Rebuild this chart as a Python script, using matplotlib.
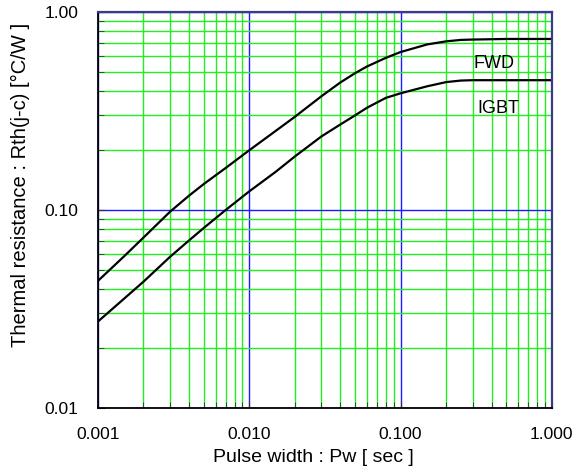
import matplotlib
matplotlib.use("Agg")
import matplotlib.pyplot as plt
from matplotlib.ticker import FixedLocator, FormatStrFormatter, LogLocator, NullFormatter

plt.rcParams["font.family"] = ["Liberation Sans", "DejaVu Sans"]

# pulse width [sec]
pulse_width = [0.001, 0.0015, 0.002, 0.003, 0.004, 0.005, 0.007, 0.01, 0.015,
               0.02, 0.03, 0.04, 0.05, 0.06, 0.08, 0.1, 0.15, 0.2, 0.25, 0.3,
               0.5, 1.0]
# thermal resistance [degC/W]
rth_fwd = [0.0438, 0.0586, 0.0725, 0.098, 0.118, 0.135, 0.163, 0.200, 0.251,
           0.295, 0.375, 0.440, 0.490, 0.530, 0.586, 0.627, 0.685, 0.710,
           0.722, 0.725, 0.730, 0.730]
rth_igbt = [0.0273, 0.0358, 0.0434, 0.058, 0.0701, 0.081, 0.100, 0.124, 0.156,
            0.186, 0.235, 0.270, 0.300, 0.328, 0.368, 0.388, 0.421, 0.442,
            0.450, 0.452, 0.452, 0.452]

x_ticks = [0.001, 0.01, 0.1, 1.0]
y_ticks = [0.01, 0.1, 1.0]

fig = plt.figure(figsize=(5.76, 4.76), dpi=100)
ax = fig.add_axes([0.170, 0.143, 0.788, 0.832])

ax.set_xscale("log")
ax.set_yscale("log")
ax.set_xlim(0.001, 1.0)
ax.set_ylim(0.01, 1.0)

ax.xaxis.set_major_locator(FixedLocator(x_ticks))
ax.yaxis.set_major_locator(FixedLocator(y_ticks))
ax.xaxis.set_minor_locator(LogLocator(base=10, subs=range(2, 10)))
ax.yaxis.set_minor_locator(LogLocator(base=10, subs=range(2, 10)))
ax.xaxis.set_major_formatter(FormatStrFormatter("%.3f"))
ax.yaxis.set_major_formatter(FormatStrFormatter("%.2f"))
ax.xaxis.set_minor_formatter(NullFormatter())
ax.yaxis.set_minor_formatter(NullFormatter())

ax.grid(which="minor", color="#22ee22", linewidth=1.0)
ax.grid(which="major", color="#1a1aff", linewidth=1.0)
ax.set_axisbelow(True)

ax.tick_params(which="both", direction="in", color="#333333",
               top=False, right=False)
ax.tick_params(which="major", length=5)
ax.tick_params(which="minor", length=4)
ax.tick_params(axis="x", which="major", pad=14, labelsize=12.5)
ax.tick_params(axis="y", which="major", pad=14, labelsize=12.5)

ax.plot(pulse_width, rth_fwd, color="black", linewidth=1.6)
ax.plot(pulse_width, rth_igbt, color="black", linewidth=1.6)

ax.text(0.305, 0.55, "FWD", fontsize=13, va="center", ha="left")
ax.text(0.32, 0.325, "IGBT", fontsize=13, va="center", ha="left")

ax.set_xlabel("Pulse width : Pw [ sec ]", fontsize=14)
ax.set_ylabel("Thermal resistance : Rth(j-c) [\u00b0C/W ]", fontsize=14.5)
ax.xaxis.set_label_coords(0.474, -0.103)
ax.yaxis.set_label_coords(-0.150, 0.562)

for side in ["left", "bottom"]:
    ax.spines[side].set_color("black")
    ax.spines[side].set_linewidth(1.3)
for side in ["top", "right"]:
    ax.spines[side].set_color("#3c3c82")
    ax.spines[side].set_linewidth(1.6)

fig.savefig("out.png", dpi=100, facecolor="white")
